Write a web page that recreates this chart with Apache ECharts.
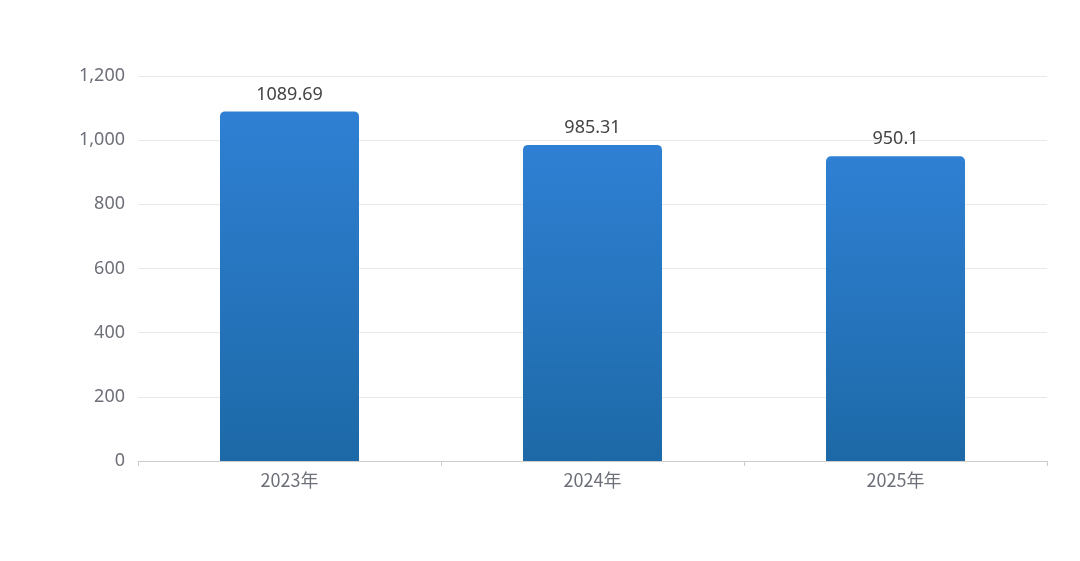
<!DOCTYPE html>
<html><head><meta charset="utf-8">
<script src="https://cdn.jsdelivr.net/npm/echarts@6/dist/echarts.min.js"></script>
<style>html,body{margin:0;padding:0;background:#fff}#c{width:1080px;height:561px}</style>
</head><body><div id="c"></div>
<script>
const categories = ['2023年','2024年','2025年'];
const values = [1089.69, 985.31, 950.1];
const yTicks = [0,200,400,600,800,1000,1200];
const chart = echarts.init(document.getElementById('c'));
chart.setOption({
  animation:false,
  grid:{left:138,right:33,top:76,bottom:100},
  xAxis:{type:'category',data:categories,
    axisLine:{show:true,lineStyle:{color:'#ccc'}},
    axisTick:{show:true,alignWithLabel:false,lineStyle:{color:'#ccc'},length:5},
    axisLabel:{color:'#6e7079',fontSize:18,margin:10,fontFamily:'Noto Sans CJK SC, Noto Sans, sans-serif'}},
  yAxis:{type:'value',min:0,max:1200,interval:200,
    axisLabel:{color:'#6e7079',fontSize:18,margin:13,fontFamily:'Noto Sans, sans-serif',
      formatter:v=>v.toLocaleString('en-US')},
    splitLine:{lineStyle:{color:'#e8e8e4'}}},
  series:[{type:'bar',data:values,barWidth:139,
    itemStyle:{borderRadius:[5,5,0,0],
      color:new echarts.graphic.LinearGradient(0,0,0,1,[{offset:0,color:'#2f80d4'},{offset:1,color:'#1d69a7'}])},
    label:{show:true,position:'top',color:'#444',fontSize:18,distance:8,fontFamily:'Noto Sans, sans-serif'}}]
});
</script></body></html>
